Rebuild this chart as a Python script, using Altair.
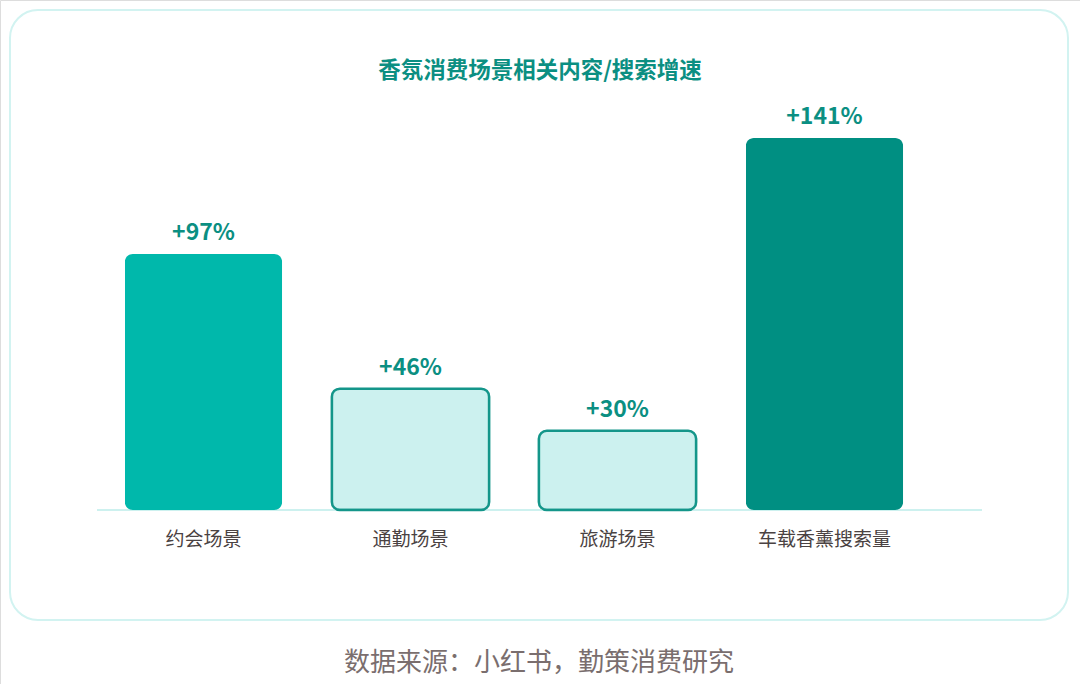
import altair as alt
import pandas as pd

categories = ["约会场景", "通勤场景", "旅游场景", "车载香薰搜索量"]
values = [97, 46, 30, 141]
value_labels = ["+97%", "+46%", "+30%", "+141%"]
fills = ["#00b8ab", "#ccf1ef", "#ccf1ef", "#008f82"]
outlined = [False, True, True, False]
title_text = "香氛消费场景相关内容/搜索增速"
source_text = "数据来源：小红书，勤策消费研究"

FONT = "Noto Sans CJK SC"

df = pd.DataFrame({
    "cat": categories,
    "val": values,
    "lab": value_labels,
    "fill": fills,
    "outlined": outlined,
})
one = pd.DataFrame({"k": [0]})

xs = alt.X("cat:N", sort=categories, axis=None,
           scale=alt.Scale(range=[100, 928], paddingInner=0.24, paddingOuter=0.12))
ys = alt.Y("val:Q", axis=None, scale=alt.Scale(domain=[0, 141], range=[510, 138]))

card = alt.Chart(one).mark_rect(
    cornerRadius=28, fill="#ffffff", stroke="#d2f3f1", strokeWidth=2
).encode(x=alt.value(10), x2=alt.value(1068), y=alt.value(10), y2=alt.value(620))

baseline = alt.Chart(one).mark_rule(color="#cdf1ef", strokeWidth=2).encode(
    x=alt.value(97), x2=alt.value(982), y=alt.value(510)
)

solid_bars = alt.Chart(df).transform_filter("!datum.outlined").mark_bar(
    cornerRadius=8
).encode(x=xs, y=ys, fill=alt.Fill("fill:N", scale=None))

outline_bars = alt.Chart(df).transform_filter("datum.outlined").mark_bar(
    cornerRadius=8, stroke="#14968a", strokeWidth=2.5
).encode(x=xs, y=ys, fill=alt.Fill("fill:N", scale=None))

vlabels = alt.Chart(df).mark_text(
    font=FONT, fontSize=23, fontWeight="bold", color="#0b8f82", baseline="alphabetic", dy=-14
).encode(x=xs, y=ys, text="lab:N")

clabels = alt.Chart(df).mark_text(
    font=FONT, fontSize=19, color="#4a4242", baseline="middle"
).encode(x=xs, y=alt.value(540), text="cat:N")

title = alt.Chart(pd.DataFrame({"t": [title_text]})).mark_text(
    font=FONT, fontSize=22.5, fontWeight="bold", color="#0b8f82", baseline="middle"
).encode(x=alt.value(540), y=alt.value(71), text="t:N")

source = alt.Chart(pd.DataFrame({"t": [source_text]})).mark_text(
    font=FONT, fontSize=26, color="#7a6e6e", baseline="middle"
).encode(x=alt.value(539), y=alt.value(663), text="t:N")

chart = alt.layer(card, baseline, solid_bars, outline_bars, vlabels, clabels, title, source).properties(
    width=1080, height=684, autosize=alt.AutoSizeParams(type="none"), padding=0
).configure_view(stroke=None).configure(background="#ffffff")

chart.save("out.html", embed_options={"renderer": "svg", "actions": False})
